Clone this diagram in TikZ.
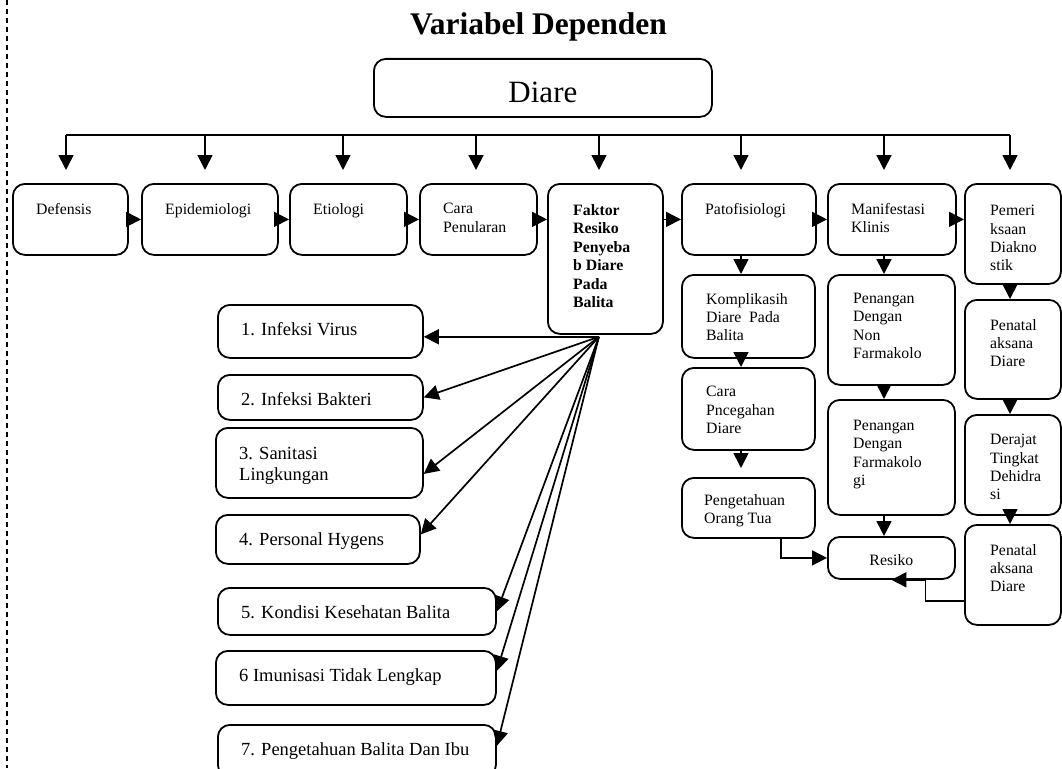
\documentclass[tikz,border=0pt]{standalone}
\usepackage{fontspec}
\setmainfont{Liberation Serif}
\usetikzlibrary{arrows.meta,calc}

\tikzset{
  box/.style={draw, line width=1.8pt, rounded corners=12pt, anchor=north west, inner sep=0pt},
  arr/.style={line width=1.7pt, -{Triangle[length=15pt,width=15pt]}},
  tx/.style={anchor=north west, inner sep=0pt, align=left, font=\fontsize{15.8}{18.4}\selectfont},
  txb/.style={tx, font=\bfseries\fontsize{15.8}{18.5}\selectfont},
  tl/.style={anchor=north west, inner sep=0pt, align=left, font=\fontsize{18.5}{21}\selectfont}
}

\begin{document}
\begin{tikzpicture}[x=1pt,y=-1pt]
\useasboundingbox (0,0) rectangle (1062,768);
% margin line
\draw[line width=1.5pt, dash pattern=on 5pt off 4pt] (7,0) -- (7,768);

% title and main box
\node[font=\bfseries\fontsize{31.5}{36}\selectfont, anchor=base, inner sep=0pt] (ttl) at (538.5,35) {Variabel Dependen};
\node[box, minimum width=338pt, minimum height=58pt, font=\fontsize{31}{36}\selectfont, text height=29pt, text depth=0pt] (dia) at (373,58) {Diare};

% top row
\node[box, minimum width=115pt, minimum height=71pt] (def) at (12,183) {};
\node[box, minimum width=136pt, minimum height=71pt] (epi) at (141,183) {};
\node[box, minimum width=117pt, minimum height=71pt] (eti) at (289,183) {};
\node[box, minimum width=117pt, minimum height=71pt] (cara) at (419,183) {};
\node[box, minimum width=115pt, minimum height=150pt] (fk) at (547,183) {};
\node[box, minimum width=134pt, minimum height=71pt] (pat) at (681,183) {};
\node[box, minimum width=128pt, minimum height=71pt] (man) at (827,183) {};
\node[box, minimum width=96pt, minimum height=100pt] (pem) at (964,183) {};

% columns below
\node[box, minimum width=133pt, minimum height=83pt] (kom) at (681,274) {};
\node[box, minimum width=133pt, minimum height=82pt] (cp) at (681,367) {};
\node[box, minimum width=133pt, minimum height=60pt] (pot) at (681,477) {};
\node[box, minimum width=127pt, minimum height=110pt] (non) at (827,274) {};
\node[box, minimum width=127pt, minimum height=115pt] (far) at (827,399) {};
\node[box, minimum width=127pt, minimum height=42pt, font=\fontsize{15.8}{18.4}\selectfont, text height=16pt, text depth=0pt] (res) at (827,536) {Resiko};
\node[box, minimum width=96pt, minimum height=99pt] (pd1) at (964,299) {};
\node[box, minimum width=96pt, minimum height=100pt] (der) at (964,414) {};
\node[box, minimum width=96pt, minimum height=100pt] (pd2) at (964,524) {};

% risk factors
\node[box, minimum width=205pt, minimum height=53pt] (v1) at (217,304) {};
\node[box, minimum width=205pt, minimum height=45pt] (v2) at (217,374) {};
\node[box, minimum width=207pt, minimum height=70pt] (v3) at (215,427) {};
\node[box, minimum width=204pt, minimum height=49pt] (v4) at (215,514) {};
\node[box, minimum width=278pt, minimum height=47pt] (v5) at (217,587) {};
\node[box, minimum width=280pt, minimum height=54pt] (v6) at (215,650) {};
\node[box, minimum width=278pt, minimum height=52pt] (v7) at (217,724) {};

% texts
\foreach \n/\t in {def/Defensis, epi/Epidemiologi, eti/Etiologi, cara/{Cara\\Penularan}, pat/Patofisiologi, man/{Manifestasi\\Klinis}}
  \node[tx] (\n-t) at ($(\n.north west)+(24,20)$) {\t};
\node[txb] (fk-t) at ($(fk.north west)+(26,21)$) {Faktor\\Resiko\\Penyeba\\b Diare\\Pada\\Balita};
\node[tx] (pem-t) at ($(pem.north west)+(26,22)$) {Pemeri\\ksaan\\Diakno\\stik};
\node[tx] (kom-t) at ($(kom.north west)+(25,19)$) {Komplikasih\\Diare\ \ Pada\\Balita};
\node[tx] (cp-t) at ($(cp.north west)+(25,19)$) {Cara\\Pncegahan\\Diare};
\node[tx] (pot-t) at ($(pot.north west)+(23,17)$) {Pengetahuan\\Orang Tua};
\node[tx] (non-t) at ($(non.north west)+(26,19)$) {Penangan\\Dengan\\Non\\Farmakolo};
\node[tx] (far-t) at ($(far.north west)+(26,21)$) {Penangan\\Dengan\\Farmakolo\\gi};
\foreach \n/\t in {pd1/{Penatal\\aksana\\Diare}, der/{Derajat\\Tingkat\\Dehidra\\si}, pd2/{Penatal\\aksana\\Diare}}
  \node[tx] (\n-t) at ($(\n.north west)+(26,20)$) {\t};
\foreach \n/\t in {v1/1. Infeksi Virus, v2/2. Infeksi Bakteri, v4/4. Personal Hygens, v5/5. Kondisi Kesehatan Balita, v6/6 Imunisasi Tidak Lengkap, v7/7. Pengetahuan Balita Dan Ibu}
  \node[tl] (\n-t) at ($(\n.north west)+(24,18)$) {\t};
\node[tl] (v3-t) at ($(v3.north west)+(24,20)$) {3. Sanitasi\\Lingkungan};

% bus from main box
\draw[line width=1.7pt] (66,135) -- (1010,135);
\foreach \x in {66,205,343,476,599,741,884,1010}
  \draw[arr] (\x,135) -- ++(0,35);

% row arrows
\draw[arr] (def.east) -- (epi.west);
\draw[arr] (epi.east) -- (eti.west);
\draw[arr] (eti.east) -- (cara.west);
\draw[arr] (cara.east) -- (cara.east -| fk.west);
\draw[arr] (fk.east |- pat.west) -- (pat.west);
\draw[arr] (pat.east) -- (man.west);
\draw[arr] (man.east) -- (man.east -| pem.west);

% column arrows
\coordinate (c2) at (741,0);
\coordinate (c3) at (884,0);
\coordinate (c4) at (1010,0);
\coordinate (k1) at (781,0);
\draw[arr] (pat.south -| c2) -- (kom.north -| c2);
\draw[arr] (kom.south -| c2) -- (cp.north -| c2);
\draw[arr] (cp.south -| c2) -- ($(pot.north -| c2)+(0,-9)$);
\draw[arr] (man.south -| c3) -- (non.north -| c3);
\draw[arr] (non.south -| c3) -- (far.north -| c3);
\draw[arr] (far.south -| c3) -- (res.north -| c3);
\draw[arr] (pem.south -| c4) -- (pd1.north -| c4);
\draw[arr] (pd1.south -| c4) -- (der.north -| c4);
\draw[arr] (der.south -| c4) -- (pd2.north -| c4);
\draw[arr] (pot.south -| k1) |- (res.west);
\draw[arr] ($(pd2.west)+(0,26)$) -| ($(res.south)+(34,0)$) -- (res.south);

% fan of risk factors
\coordinate (fo) at ($(fk.south)+(-6.5,2)$);
\draw[arr] (fo) -- (fo -| v1.east);
\foreach \n/\d in {v2/0, v3/11, v4/-5, v5/0, v6/-7, v7/-5}
  \draw[arr] (fo) -- ($(\n.east)+(0,\d)$);
\end{tikzpicture}
\end{document}
